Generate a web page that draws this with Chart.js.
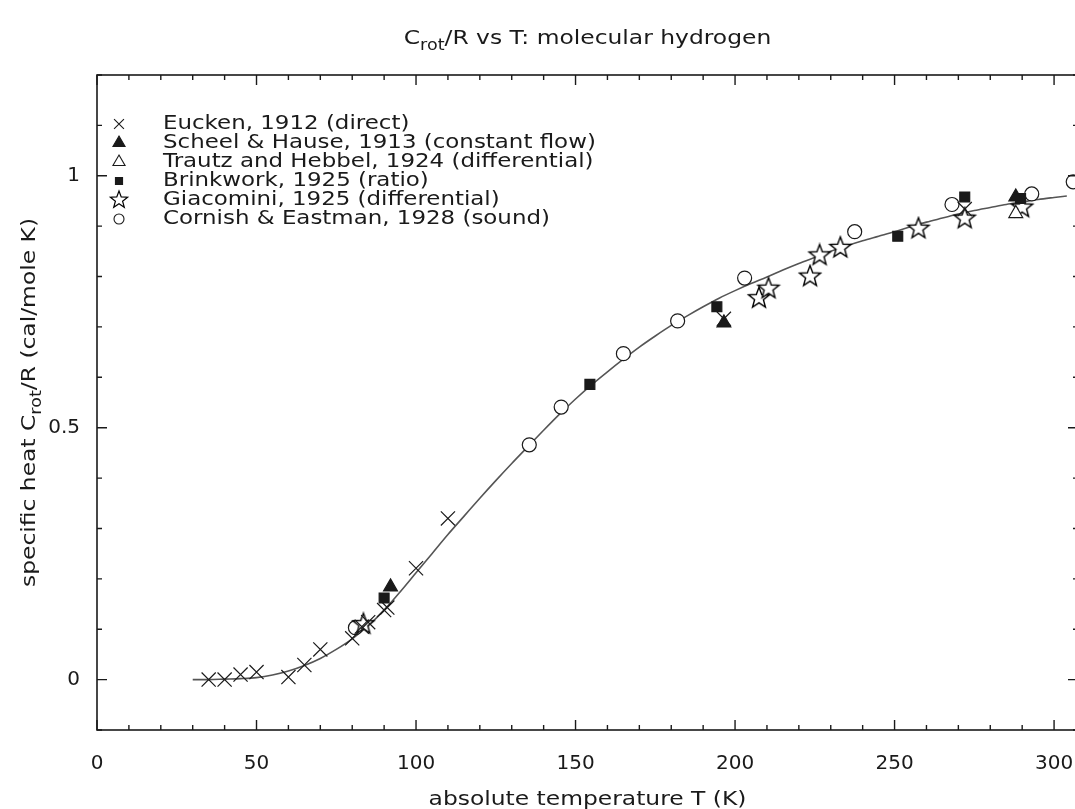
<!DOCTYPE html>
<html>
<head>
<meta charset="utf-8">
<script src="https://cdn.jsdelivr.net/npm/chart.js@4.4.1/dist/chart.umd.min.js"></script>
<style>
  html, body { margin: 0; padding: 0; background: #fff; overflow: hidden; }
</style>
</head>
<body>
<canvas id="chart" width="1080" height="809"></canvas>
<script>
// theory curve
const curveT = [30, 35, 40, 45, 50, 55, 60, 65, 70, 75, 80, 85, 90, 95, 100, 105, 110, 115, 120, 125, 130, 135,
  140, 145, 150, 155, 160, 165, 170, 175, 180, 185, 190, 195, 200, 205, 210, 215, 220, 225, 230, 235, 240,
  245, 250, 255, 260, 265, 270, 275, 280, 285, 290, 295, 300, 304];
const curveV = [0, 0, 0.001, 0.002, 0.004, 0.009, 0.017, 0.028, 0.042, 0.06, 0.081, 0.107, 0.138, 0.174,
  0.212, 0.25, 0.288, 0.324, 0.36, 0.395, 0.429, 0.462, 0.495, 0.527, 0.557, 0.585, 0.611, 0.636, 0.66,
  0.682, 0.703, 0.722, 0.74, 0.757, 0.772, 0.786, 0.799, 0.813, 0.826, 0.838, 0.85, 0.861, 0.871, 0.88,
  0.889, 0.899, 0.908, 0.916, 0.924, 0.931, 0.937, 0.943, 0.948, 0.953, 0.957, 0.96];

// measurements [T, Crot/R]
const eucken = [[35, 0], [40, 0], [45, 0.01], [50, 0.015], [60, 0.005], [65, 0.029], [70, 0.06], [80, 0.082],
  [83, 0.105], [85, 0.114], [90, 0.138], [91, 0.143], [100, 0.221], [110, 0.32], [196.5, 0.716], [272, 0.934]];
const scheel = [[92, 0.184], [196.5, 0.708], [288, 0.958]];
const trautz = [[288, 0.925]];
const brinkwork = [[90, 0.162], [154.5, 0.586], [194.3, 0.74], [251, 0.88], [272, 0.958], [289.5, 0.955]];
const giacomini = [[83.5, 0.11], [207.5, 0.757], [210.5, 0.776], [223.5, 0.8], [226.5, 0.842], [233, 0.857],
  [257.5, 0.895], [272, 0.915], [290, 0.937]];
const cornish = [[81, 0.103], [135.5, 0.466], [145.5, 0.541], [165, 0.647], [182, 0.712], [203, 0.797],
  [237.5, 0.889], [268, 0.943], [293, 0.964], [306, 0.988]];

const legendLabels = [
  'Eucken, 1912 (direct)',
  'Scheel & Hause, 1913 (constant flow)',
  'Trautz and Hebbel, 1924 (differential)',
  'Brinkwork, 1925 (ratio)',
  'Giacomini, 1925 (differential)',
  'Cornish & Eastman, 1928 (sound)'
];
const xTickLabels = [0, 50, 100, 150, 200, 250, 300];
const yTickLabels = [0, 0.5, 1];

const FONT = "'DejaVu Sans', 'Liberation Sans', sans-serif";
const INK = '#1a1a1a';
const STRETCH = 1.17; // the original lettering is wider than DejaVu

// open five-point star used as a point style
function makeStar(r, lw) {
  const c = document.createElement('canvas');
  const s = Math.ceil(2 * r + 4);
  c.width = s;
  c.height = s;
  const g = c.getContext('2d');
  g.beginPath();
  for (let i = 0; i < 10; i++) {
    const rad = i % 2 === 0 ? r : r * 0.42;
    const a = -Math.PI / 2 + i * Math.PI / 5;
    const px = s / 2 + rad * Math.cos(a);
    const py = s / 2 + rad * Math.sin(a);
    if (i === 0) g.moveTo(px, py); else g.lineTo(px, py);
  }
  g.closePath();
  g.fillStyle = '#fff';
  g.fill();
  g.strokeStyle = '#000';
  g.lineWidth = lw;
  g.stroke();
  return c;
}
const starBig = makeStar(11, 1.4);
const starSmall = makeStar(9, 1.2);

const toXY = arr => arr.map(p => ({ x: p[0], y: p[1] }));

const legendStyles = [
  { pointStyle: 'crossRot', radius: 7, fill: INK },
  { pointStyle: 'triangle', radius: 7, fill: INK },
  { pointStyle: 'triangle', radius: 7, fill: '#fff' },
  { pointStyle: 'rect', radius: 5, fill: INK },
  { pointStyle: starSmall, radius: 9, fill: '#fff' },
  { pointStyle: 'circle', radius: 5, fill: '#fff' }
];

// text with optional subscript parts, stretched a bit horizontally
function drawRich(ctx, parts, x, y, size, align) {
  ctx.save();
  ctx.translate(x, y);
  ctx.scale(STRETCH, 1);
  let total = 0;
  const widths = parts.map(p => {
    ctx.font = (p.sub ? size * 0.75 : size) + 'px ' + FONT;
    const w = ctx.measureText(p.t).width;
    total += w;
    return w;
  });
  let cx = align === 'left' ? 0 : -total / 2;
  ctx.textAlign = 'left';
  ctx.textBaseline = 'middle';
  parts.forEach((p, i) => {
    ctx.font = (p.sub ? size * 0.75 : size) + 'px ' + FONT;
    ctx.fillText(p.t, cx, p.sub ? size * 0.35 : 0);
    cx += widths[i];
  });
  ctx.restore();
}

const framePlugin = {
  id: 'frame',
  afterDatasetsDraw(chart) {
    const { ctx, chartArea, scales } = chart;
    const { left, right, top, bottom } = chartArea;
    const x = scales.x;
    const y = scales.y;
    ctx.save();
    ctx.strokeStyle = INK;
    ctx.lineWidth = 1.6;
    ctx.strokeRect(left, top, right - left, bottom - top);

    // inward ticks on all four sides
    ctx.lineWidth = 1.4;
    ctx.beginPath();
    for (let t = 0; t <= 310; t += 10) {
      const px = x.getPixelForValue(t);
      if (px > right + 0.5) break;
      const len = t % 50 === 0 ? 10 : 5;
      ctx.moveTo(px, bottom); ctx.lineTo(px, bottom - len);
      ctx.moveTo(px, top); ctx.lineTo(px, top + len);
    }
    for (let i = -1; i <= 12; i++) {
      const py = y.getPixelForValue(i / 10);
      const len = i % 5 === 0 ? 10 : 5;
      ctx.moveTo(left, py); ctx.lineTo(left + len, py);
      ctx.moveTo(right, py); ctx.lineTo(right - len, py);
    }
    ctx.stroke();

    // legend inside the plot
    ctx.fillStyle = INK;
    legendLabels.forEach((label, i) => {
      const ly = top + 49 + i * 19;
      const st = legendStyles[i];
      ctx.save();
      ctx.fillStyle = st.fill;
      ctx.strokeStyle = INK;
      ctx.lineWidth = 1.1;
      Chart.helpers.drawPoint(ctx, { pointStyle: st.pointStyle, radius: st.radius, rotation: 0, borderWidth: 1.1 }, left + 22, ly);
      ctx.restore();
      drawRich(ctx, [{ t: label }], left + 66, ly, 19.6, 'left');
    });

    // titles
    const midX = (left + right) / 2;
    drawRich(ctx, [{ t: 'C' }, { t: 'rot', sub: true }, { t: '/R vs T: molecular hydrogen' }], midX, 39, 20);
    drawRich(ctx, [{ t: 'absolute temperature T (K)' }], midX, 800, 20);

    ctx.translate(30, (top + bottom) / 2);
    ctx.rotate(-Math.PI / 2);
    drawRich(ctx, [{ t: 'specific heat C' }, { t: 'rot', sub: true }, { t: '/R (cal/mole K)' }], 0, 0, 20);
    ctx.restore();
  }
};

const pointSet = (label, data, style, radius, fill) => ({
  label,
  data: toXY(data),
  showLine: false,
  pointStyle: style,
  pointRadius: radius,
  pointBackgroundColor: fill,
  pointBorderColor: INK,
  pointBorderWidth: 1.2,
  order: 1
});

new Chart(document.getElementById('chart'), {
  type: 'scatter',
  data: {
    datasets: [
      {
        label: 'theory',
        data: curveT.map((t, i) => ({ x: t, y: curveV[i] })),
        showLine: true,
        borderColor: '#555',
        borderWidth: 1.6,
        pointRadius: 0,
        cubicInterpolationMode: 'monotone',
        order: 10
      },
      pointSet(legendLabels[0], eucken, 'crossRot', 10, INK),
      pointSet(legendLabels[1], scheel, 'triangle', 8, INK),
      pointSet(legendLabels[2], trautz, 'triangle', 8, '#fff'),
      pointSet(legendLabels[3], brinkwork, 'rect', 7, INK),
      pointSet(legendLabels[4], giacomini, starBig, 11, '#fff'),
      pointSet(legendLabels[5], cornish, 'circle', 7, '#fff')
    ]
  },
  options: {
    responsive: false,
    animation: false,
    layout: { autoPadding: false, padding: { top: 75, right: 2, left: 0, bottom: 0 } },
    plugins: {
      legend: { display: false },
      tooltip: { enabled: false },
      title: { display: false }
    },
    scales: {
      x: {
        type: 'linear',
        min: 0,
        max: 307.5,
        grid: { display: false, drawTicks: false },
        border: { display: false },
        afterBuildTicks(scale) {
          scale.ticks = xTickLabels.map(v => ({ value: v }));
        },
        afterFit(scale) {
          scale.height = 79;
          scale.paddingLeft = 0;
          scale.paddingRight = 0;
        },
        ticks: {
          autoSkip: false,
          maxRotation: 0,
          padding: 22,
          color: INK,
          font: { family: FONT, size: 20 },
          callback: v => String(v)
        }
      },
      y: {
        min: -0.1,
        max: 1.2,
        grid: { display: false, drawTicks: false },
        border: { display: false },
        afterBuildTicks(scale) {
          scale.ticks = yTickLabels.map(v => ({ value: v }));
        },
        afterFit(scale) {
          scale.width = 97;
          scale.paddingTop = 0;
          scale.paddingBottom = 0;
        },
        ticks: {
          autoSkip: false,
          padding: 17,
          color: INK,
          font: { family: FONT, size: 20 },
          callback: v => String(v)
        }
      }
    }
  },
  plugins: [framePlugin]
});
</script>
</body>
</html>
